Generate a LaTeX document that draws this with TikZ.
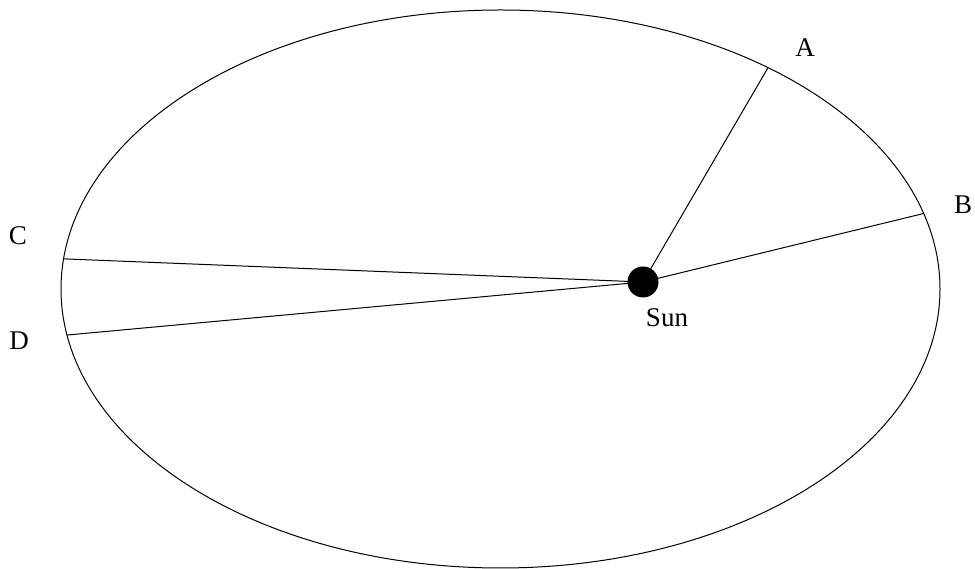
\documentclass[tikz,border=0pt]{standalone}
\usepackage{fontspec}
\setmainfont{Liberation Serif}
\usetikzlibrary{calc}

\begin{document}
\begin{tikzpicture}[
        x=1pt, y=1pt,
        orbit/.style={draw=black, line width=1pt},
        radius/.style={draw=black, line width=1pt},
        star/.style={circle, fill=black, inner sep=0pt, minimum size=31pt},
        lbl/.style={font=\fontsize{27}{32}\selectfont, inner sep=0pt}
    ]
    \useasboundingbox (0,0) rectangle (975,569);
    \coordinate (centre) at (500.5,280);
    \draw [orbit] (centre) ellipse (439.5 and 279);

    % points on the orbit
    \coordinate (pa) at ($(centre)+(52.5:439.5 and 279)$);
    \coordinate (pb) at ($(centre)+(15.7:439.5 and 279)$);
    \coordinate (pc) at ($(centre)+(173.8:439.5 and 279)$);
    \coordinate (pd) at ($(centre)+(189.5:439.5 and 279)$);

    \node (sun) [star] at (643,287) {};
    \node (sunlbl) [lbl] at (667,251) {Sun};
    \node (la) [lbl] at (805,521) {A};
    \node (lb) [lbl] at (963,364) {B};
    \node (lc) [lbl] at (18,333) {C};
    \node (ld) [lbl] at (19,228) {D};

    \draw [radius] (sun.center) -- (pa);
    \draw [radius] (sun.center) -- (pb);
    \draw [radius] (sun.center) -- (pc);
    \draw [radius] (sun.center) -- (pd);
\end{tikzpicture}
\end{document}
